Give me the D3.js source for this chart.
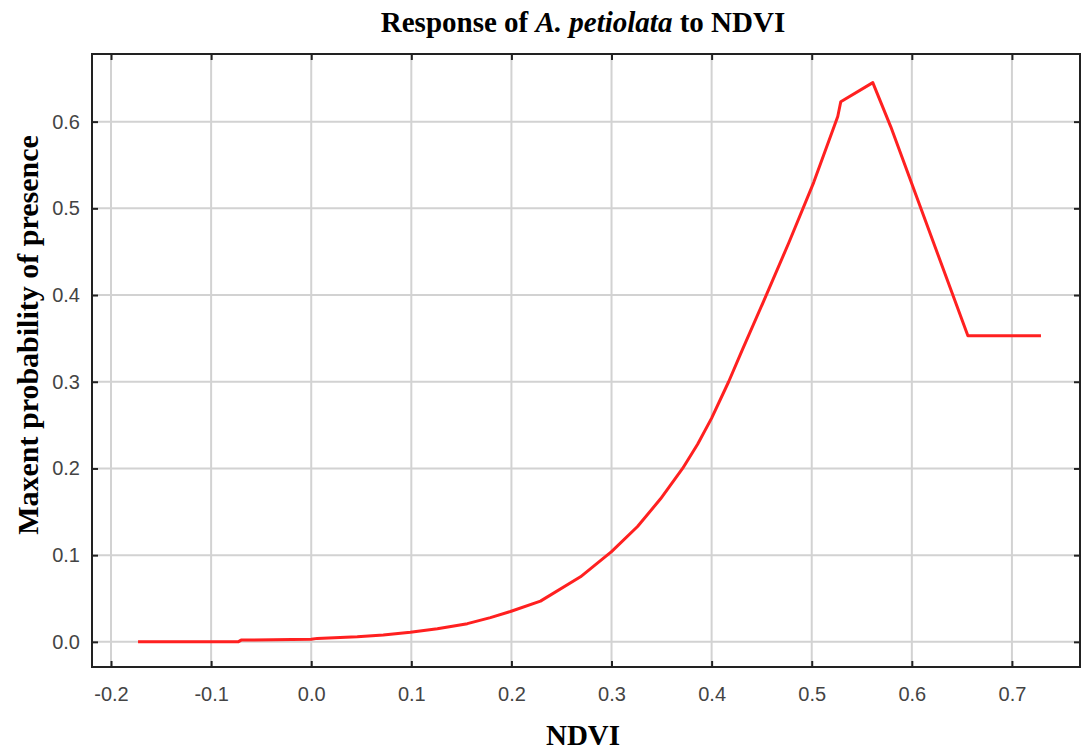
<!DOCTYPE html>
<html>
<head>
<meta charset="utf-8">
<script src="https://cdn.jsdelivr.net/npm/d3@7"></script>
<style>
  body { margin: 0; background: #fff; }
  svg { display: block; }
</style>
</head>
<body>
<div id="chart"></div>
<script>
// NDVI values and Maxent response
const ndvi = [-0.173, -0.073, -0.07, 0.0, 0.006, 0.046, 0.072, 0.099, 0.126, 0.156, 0.179, 0.199,
              0.229, 0.269, 0.300, 0.326, 0.349, 0.371, 0.386, 0.400, 0.417, 0.430, 0.452, 0.477,
              0.502, 0.526, 0.529, 0.561, 0.579, 0.656, 0.729];
const probability = [0.0, 0.0, 0.002, 0.003, 0.004, 0.006, 0.008, 0.011, 0.015, 0.021, 0.028, 0.035,
                     0.047, 0.075, 0.104, 0.133, 0.165, 0.200, 0.228, 0.258, 0.300, 0.335, 0.393, 0.460,
                     0.530, 0.606, 0.623, 0.645, 0.594, 0.353, 0.353];
const xTicks = [-0.2, -0.1, 0.0, 0.1, 0.2, 0.3, 0.4, 0.5, 0.6, 0.7];
const yTicks = [0.0, 0.1, 0.2, 0.3, 0.4, 0.5, 0.6];

const width = 1081, height = 755;
const margin = { top: 54, right: 1, bottom: 88, left: 92 };
const innerW = width - margin.left - margin.right;
const innerH = height - margin.top - margin.bottom;

const svg = d3.select("#chart")
    .append("svg")
    .attr("width", width)
    .attr("height", height);

const x = d3.scaleLinear().domain([-0.219, 0.768]).range([0, innerW]);
const y = d3.scaleLinear().domain([-0.029, 0.678]).range([innerH, 0]);

const g = svg.append("g")
    .attr("transform", `translate(${margin.left}, ${margin.top})`);

// grid
g.selectAll("line.vgrid")
    .data(xTicks)
    .enter().append("line")
    .attr("class", "vgrid")
    .attr("x1", d => x(d)).attr("x2", d => x(d))
    .attr("y1", 0).attr("y2", innerH)
    .attr("stroke", "#d2d2d2")
    .attr("stroke-width", 2);

g.selectAll("line.hgrid")
    .data(yTicks)
    .enter().append("line")
    .attr("class", "hgrid")
    .attr("x1", 0).attr("x2", innerW)
    .attr("y1", d => y(d)).attr("y2", d => y(d))
    .attr("stroke", "#d2d2d2")
    .attr("stroke-width", 2);

// axes, ticks pointing inward; plain hyphen for negatives like the original
const fmt = d => d.toFixed(1);
const styleAxis = sel => {
    sel.select(".domain").remove();
    sel.selectAll(".tick line").attr("stroke", "#222").attr("stroke-width", 2);
    sel.selectAll(".tick text")
        .style("font-family", "'Liberation Sans', Arial, sans-serif")
        .style("font-size", "20px")
        .attr("fill", "#444");
};

g.append("g")
    .attr("transform", `translate(0, ${innerH})`)
    .call(d3.axisBottom(x).tickValues(xTicks).tickFormat(fmt).tickSizeInner(-6).tickPadding(20))
    .call(styleAxis);

g.append("g")
    .call(d3.axisTop(x).tickValues(xTicks).tickFormat("").tickSizeInner(-6))
    .call(styleAxis);

g.append("g")
    .call(d3.axisLeft(y).tickValues(yTicks).tickFormat(fmt).tickSizeInner(-6).tickPadding(12))
    .call(styleAxis);

g.append("g")
    .attr("transform", `translate(${innerW}, 0)`)
    .call(d3.axisRight(y).tickValues(yTicks).tickFormat("").tickSizeInner(-6))
    .call(styleAxis);

// frame
g.append("rect")
    .attr("x", 0).attr("y", 0)
    .attr("width", innerW).attr("height", innerH)
    .attr("fill", "none")
    .attr("stroke", "#222")
    .attr("stroke-width", 2);

// response curve
const line = d3.line()
    .x((d, i) => x(ndvi[i]))
    .y(d => y(d));

g.append("path")
    .datum(probability)
    .attr("d", line)
    .attr("fill", "none")
    .attr("stroke", "#ff2020")
    .attr("stroke-width", 3)
    .attr("stroke-linejoin", "round");

// title
const title = svg.append("text")
    .attr("x", 583)
    .attr("y", 32)
    .attr("text-anchor", "middle")
    .style("font-family", "'Liberation Serif', 'Times New Roman', serif")
    .style("font-weight", "bold")
    .style("font-size", "29px")
    .attr("fill", "#000");
title.append("tspan").text("Response of ");
title.append("tspan").style("font-style", "italic").text("A. petiolata");
title.append("tspan").text(" to NDVI");

// axis titles
svg.append("text")
    .attr("x", 583)
    .attr("y", 745)
    .attr("text-anchor", "middle")
    .style("font-family", "'Liberation Serif', 'Times New Roman', serif")
    .style("font-weight", "bold")
    .style("font-size", "29px")
    .text("NDVI");

svg.append("text")
    .attr("transform", `translate(38, 335) rotate(-90)`)
    .attr("text-anchor", "middle")
    .style("font-family", "'Liberation Serif', 'Times New Roman', serif")
    .style("font-weight", "bold")
    .style("font-size", "30px")
    .text("Maxent probability of presence");
</script>
</body>
</html>
